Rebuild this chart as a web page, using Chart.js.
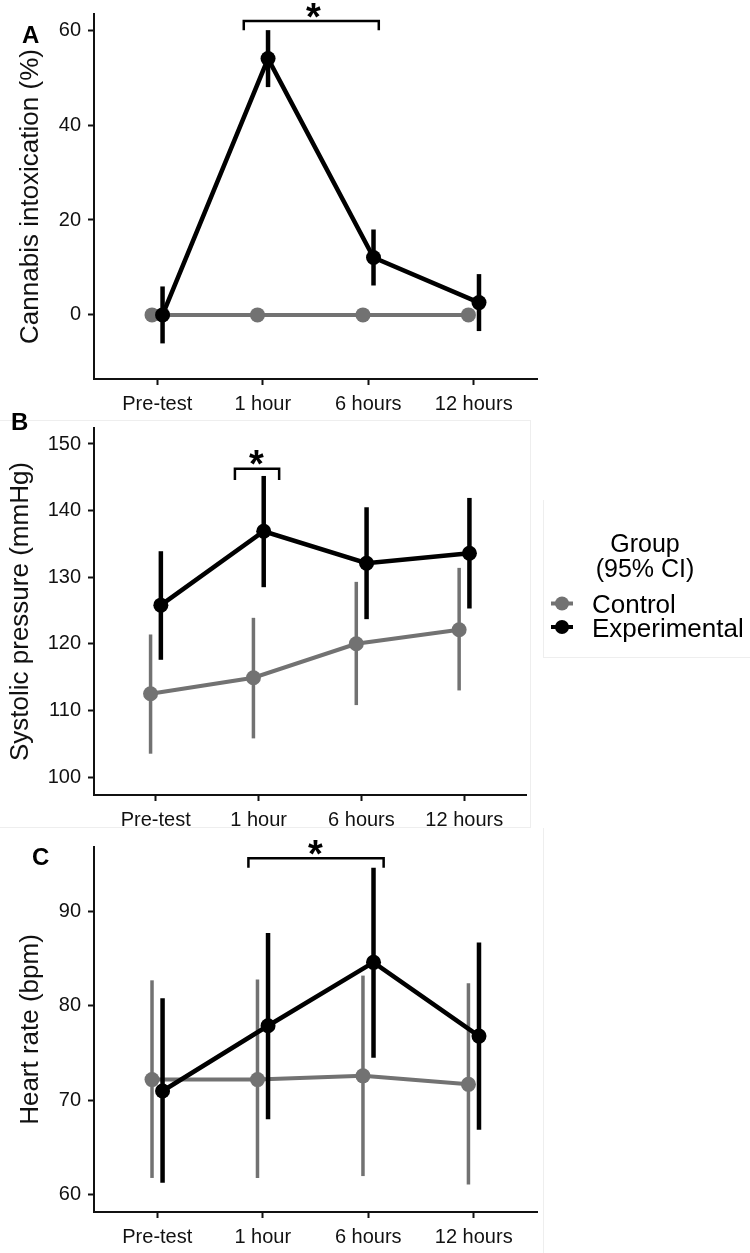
<!DOCTYPE html>
<html>
<head>
<meta charset="utf-8">
<script src="https://cdn.jsdelivr.net/npm/chart.js@4.4.1/dist/chart.umd.min.js"></script>
<style>
html,body{margin:0;padding:0;background:#fff;}
#wrap{position:relative;width:750px;height:1253px;overflow:hidden;background:#fff;}
canvas{position:absolute;left:0;}
.edge{position:absolute;background:#eeeeee;}
</style>
</head>
<body>
<div id="wrap">
<div class="edge" style="left:0;top:420px;width:530px;height:1px"></div>
<div class="edge" style="left:530px;top:420px;width:1px;height:408px"></div>
<div class="edge" style="left:0;top:827px;width:531px;height:1px"></div>
<div class="edge" style="left:543px;top:828px;width:1px;height:425px"></div>
<div class="edge" style="left:543px;top:500px;width:1px;height:157px"></div>
<div class="edge" style="left:543px;top:657px;width:207px;height:1px"></div>
<canvas id="cA" width="750" height="412" style="top:0px"></canvas>
<canvas id="cB" width="750" height="416" style="top:412px"></canvas>
<canvas id="cC" width="750" height="425" style="top:828px"></canvas>
</div>
<script>
// ---------------- DATA ----------------
const timepoints = ['Pre-test', '1 hour', '6 hours', '12 hours'];
const groupNames = ['Control', 'Experimental'];

// Panel A: Cannabis intoxication (%)
const intoxControl   = [0, 0, 0, 0];
const intoxControlLo = [0, 0, 0, 0];
const intoxControlHi = [0, 0, 0, 0];
const intoxExp       = [0.0, 54.0, 12.1, 2.6];
const intoxExpLo     = [-6.0, 48.0, 6.2, -3.4];
const intoxExpHi     = [6.0, 60.0, 18.0, 8.6];
const intoxTicks     = [0, 20, 40, 60];

// Panel B: Systolic pressure (mmHg)
const sysControl   = [112.5, 114.9, 120.0, 122.1];
const sysControlLo = [103.5, 105.8, 110.8, 113.0];
const sysControlHi = [121.4, 123.9, 129.3, 131.4];
const sysExp       = [125.8, 136.9, 132.1, 133.6];
const sysExpLo     = [117.6, 128.5, 123.7, 125.3];
const sysExpHi     = [133.9, 145.2, 140.5, 141.9];
const sysTicks     = [100, 110, 120, 130, 140, 150];

// Panel C: Heart rate (bpm)
const hrControl   = [72.2, 72.2, 72.6, 71.7];
const hrControlLo = [61.8, 61.8, 62.0, 61.1];
const hrControlHi = [82.7, 82.8, 83.2, 82.4];
const hrExp       = [71.0, 77.9, 84.6, 76.8];
const hrExpLo     = [61.3, 68.0, 74.5, 66.9];
const hrExpHi     = [80.8, 87.7, 94.6, 86.7];
const hrTicks     = [60, 70, 80, 90];

// ---------------- STYLE ----------------
const FONT = "'Liberation Sans', Arial, Helvetica, sans-serif";
const GREY = '#727272';
const BLACK = '#000000';
const DODGE = 0.05;

const errorBarPlugin = {
  id: 'errbars',
  beforeDatasetDraw(chart, args) {
    const ds = chart.data.datasets[args.index];
    if (!ds.errLo) return;
    const ys = chart.scales.y;
    const ctx = chart.ctx;
    ctx.save();
    ctx.strokeStyle = ds.borderColor;
    ctx.lineWidth = ds.errWidth;
    ctx.lineCap = 'butt';
    args.meta.data.forEach((pt, i) => {
      const lo = ds.errLo[i], hi = ds.errHi[i];
      if (lo === hi) return;
      ctx.beginPath();
      ctx.moveTo(pt.x, ys.getPixelForValue(lo));
      ctx.lineTo(pt.x, ys.getPixelForValue(hi));
      ctx.stroke();
    });
    ctx.restore();
  }
};

const decorPlugin = {
  id: 'decor',
  afterDraw(chart, args, opts) {
    const ctx = chart.ctx;
    const xs = chart.scales.x, ys = chart.scales.y;
    ctx.save();
    // significance bracket
    if (opts.bracket) {
      const b = opts.bracket;
      const x1 = xs.getPixelForValue(b.from), x2 = xs.getPixelForValue(b.to);
      const y = ys.getPixelForValue(b.y), yd = ys.getPixelForValue(b.y - b.drop);
      ctx.strokeStyle = BLACK; ctx.lineWidth = 2.5; ctx.lineJoin = 'miter'; ctx.lineCap = 'butt';
      ctx.beginPath();
      ctx.moveTo(x1, yd); ctx.lineTo(x1, y); ctx.lineTo(x2, y); ctx.lineTo(x2, yd);
      ctx.stroke();
      ctx.font = 'bold 38px ' + FONT;
      ctx.fillStyle = BLACK; ctx.textAlign = 'center'; ctx.textBaseline = 'alphabetic';
      const m = ctx.measureText('*');
      const off = (m.actualBoundingBoxAscent - m.actualBoundingBoxDescent) / 2;
      ctx.fillText('*', xs.getPixelForValue(b.star), y - 11 + off);
    }
    // panel letter
    if (opts.letter) {
      ctx.font = 'bold 24px ' + FONT;
      ctx.fillStyle = BLACK; ctx.textAlign = 'left'; ctx.textBaseline = 'alphabetic';
      ctx.fillText(opts.letter.text, opts.letter.x, opts.letter.y);
    }
    // legend
    if (opts.legend) {
      const L = opts.legend;
      ctx.fillStyle = BLACK; ctx.textAlign = 'center'; ctx.textBaseline = 'alphabetic';
      ctx.font = '25px ' + FONT;
      ctx.fillText('Group', L.cx, L.y0);
      ctx.fillText('(95% CI)', L.cx, L.y0 + 24.5);
      const cols = [GREY, BLACK];
      groupNames.forEach((g, i) => {
        const by = L.y0 + 61 + i * 23.5;
        const my = by - 9.5;
        ctx.strokeStyle = cols[i]; ctx.fillStyle = cols[i];
        ctx.lineWidth = 4;
        ctx.beginPath(); ctx.moveTo(L.mx - 11, my); ctx.lineTo(L.mx + 11, my); ctx.stroke();
        ctx.beginPath(); ctx.arc(L.mx, my, 7, 0, Math.PI * 2); ctx.fill();
        ctx.fillStyle = BLACK; ctx.textAlign = 'left';
        ctx.font = '26px ' + FONT;
        ctx.fillText(g, L.tx, by);
      });
    }
    ctx.restore();
  }
};

function mkData(vals, dodge) {
  return vals.map((v, i) => ({ x: i + dodge, y: v }));
}

function makePanel(id, cfg) {
  const datasets = [
    {
      label: groupNames[1],
      data: mkData(cfg.exp, DODGE),
      errLo: cfg.expLo, errHi: cfg.expHi, errWidth: 4.5,
      borderColor: BLACK, backgroundColor: BLACK,
      borderWidth: 4.5, pointRadius: 7.5, pointBorderWidth: 0,
      pointBackgroundColor: BLACK, tension: 0
    },
    {
      label: groupNames[0],
      data: mkData(cfg.ctl, -DODGE),
      errLo: cfg.ctlLo, errHi: cfg.ctlHi, errWidth: 3.5,
      borderColor: GREY, backgroundColor: GREY,
      borderWidth: 4, pointRadius: 7.5, pointBorderWidth: 0,
      pointBackgroundColor: GREY, tension: 0
    }
  ];
  return new Chart(document.getElementById(id), {
    type: 'line',
    data: { datasets },
    plugins: [errorBarPlugin, decorPlugin],
    options: {
      responsive: false,
      devicePixelRatio: 1,
      animation: false,
      events: [],
      layout: { padding: { top: cfg.padTop, right: cfg.padRight, bottom: 0, left: 0 } },
      plugins: {
        legend: { display: false },
        tooltip: { enabled: false },
        decor: { bracket: cfg.bracket, letter: cfg.letter, legend: cfg.legend || null }
      },
      scales: {
        x: {
          type: 'linear', min: -0.6, max: 3.6,
          afterBuildTicks: s => { s.ticks = timepoints.map((_, i) => ({ value: i })); },
          afterFit: s => { s.height = cfg.xAxisH; s.paddingLeft = 0; s.paddingRight = 0; },
          ticks: {
            callback: v => timepoints[v],
            font: { family: FONT, size: 20 }, color: '#111',
            padding: 7, maxRotation: 0, autoSkip: false
          },
          grid: { drawOnChartArea: false, drawTicks: true, tickLength: 6, tickWidth: 2, color: '#111' },
          border: { display: true, color: '#111', width: 2 }
        },
        y: {
          type: 'linear', min: cfg.yMin, max: cfg.yMax,
          afterBuildTicks: s => { s.ticks = cfg.yTicks.map(v => ({ value: v })); },
          afterFit: s => { s.width = 94; s.paddingTop = 0; s.paddingBottom = 0; },
          ticks: {
            font: { family: FONT, size: 20 }, color: '#111', padding: 7
          },
          grid: { drawOnChartArea: false, drawTicks: true, tickLength: 6, tickWidth: 2, color: '#111' },
          border: { display: true, color: '#111', width: 2 },
          title: {
            display: true, text: cfg.yTitle,
            font: { family: FONT, size: 26 }, color: '#111',
            padding: { top: cfg.titlePad, bottom: 0 }
          }
        }
      }
    }
  });
}

makePanel('cA', {
  ctl: intoxControl, ctlLo: intoxControlLo, ctlHi: intoxControlHi,
  exp: intoxExp, expLo: intoxExpLo, expHi: intoxExpHi,
  yMin: -13.5, yMax: 63.4, yTicks: intoxTicks,
  yTitle: 'Cannabis intoxication (%)', titlePad: 15.4,
  padTop: 14, padRight: 213, xAxisH: 33,
  bracket: { from: 0.82, to: 2.10, y: 61.9, drop: 1.9, star: 1.48 },
  letter: { text: 'A', x: 22, y: 43 }
});

makePanel('cB', {
  ctl: sysControl, ctlLo: sysControlLo, ctlHi: sysControlHi,
  exp: sysExp, expLo: sysExpLo, expHi: sysExpHi,
  yMin: 97.3, yMax: 152.4, yTicks: sysTicks,
  yTitle: 'Systolic pressure (mmHg)', titlePad: 5.4,
  padTop: 16, padRight: 224, xAxisH: 33,
  bracket: { from: 0.77, to: 1.20, y: 146.3, drop: 1.7, star: 0.98 },
  letter: { text: 'B', x: 11, y: 430 - 412 },
  legend: { cx: 645, y0: 552 - 412, mx: 562, tx: 592 }
});

makePanel('cC', {
  ctl: hrControl, ctlLo: hrControlLo, ctlHi: hrControlHi,
  exp: hrExp, expLo: hrExpLo, expHi: hrExpHi,
  yMin: 58.2, yMax: 96.8, yTicks: hrTicks,
  yTitle: 'Heart rate (bpm)', titlePad: 15.4,
  padTop: 19, padRight: 213, xAxisH: 41,
  bracket: { from: 0.864, to: 2.146, y: 95.6, drop: 1.0, star: 1.50 },
  letter: { text: 'C', x: 32, y: 865 - 828 }
});
</script>
</body>
</html>
